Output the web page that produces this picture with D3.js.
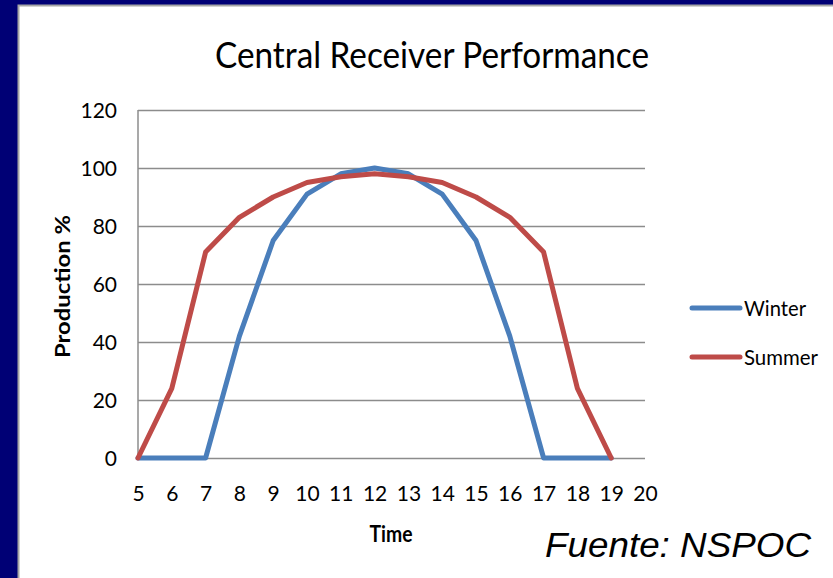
<!DOCTYPE html>
<html>
<head>
<meta charset="utf-8">
<script src="https://cdn.jsdelivr.net/npm/d3@7"></script>
<style>
  html, body { margin: 0; padding: 0; background: #fff; }
  svg { display: block; }
  text { fill: #000; }
</style>
</head>
<body>
<svg id="chart" width="833" height="578" font-family="Lato, 'Open Sans', sans-serif"></svg>
<script>
// ---- data ----
const categories = [5, 6, 7, 8, 9, 10, 11, 12, 13, 14, 15, 16, 17, 18, 19, 20];
const winterHours = [5, 6, 7, 8, 9, 10, 11, 12, 13, 14, 15, 16, 17, 18, 19];
const winterValues = [0, 0, 0, 42, 75, 91, 98, 100, 98, 91, 75, 42, 0, 0, 0];
const summerHours = [5, 6, 7, 8, 9, 10, 11, 12, 13, 14, 15, 16, 17, 18, 19];
const summerValues = [0, 24, 71, 83, 90, 95, 97, 98, 97, 95, 90, 83, 71, 24, 0];
const yTicks = [0, 20, 40, 60, 80, 100, 120];
const seriesNames = ["Winter", "Summer"];
const seriesColors = ["#4A7EBB", "#BE4B48"];
const titleText = "Central Receiver Performance";
const xTitle = "Time";
const yTitle = "Production %";
const sourceText = "Fuente: NSPOC";

const svg = d3.select("#chart");
const W = 833, H = 578;
const mainFont = "Lato, 'Open Sans', sans-serif";

// slide background and chart panel
svg.append("rect").attr("x", 0).attr("y", 0).attr("width", W).attr("height", H).attr("fill", "#000075");
svg.append("rect").attr("x", 18.5).attr("y", 5.5).attr("width", W).attr("height", H + 10)
  .attr("fill", "#fff").attr("stroke", "#A6A6A6").attr("stroke-width", 2);

const plot = { left: 138, right: 645, top: 110, bottom: 458 };

const x = d3.scalePoint().domain(categories).range([plot.left, plot.right]);
const y = d3.scaleLinear().domain([0, 120]).range([plot.bottom, plot.top]);

// gridlines + y labels
const yAxis = d3.axisLeft(y).tickValues(yTicks).tickSize(-(plot.right - plot.left)).tickPadding(21).tickFormat(d3.format("d"));
const gy = svg.append("g").attr("transform", `translate(${plot.left},0)`).call(yAxis);
gy.select(".domain").remove();
gy.selectAll(".tick line").attr("stroke", "#8C8C8C").attr("stroke-width", 1.3);
gy.selectAll(".tick text").attr("font-size", 21).attr("font-family", mainFont).attr("fill", "#000").attr("dy", "0.36em");

// vertical axis line
svg.append("line").attr("x1", plot.left).attr("x2", plot.left).attr("y1", plot.top).attr("y2", plot.bottom)
  .attr("stroke", "#8C8C8C").attr("stroke-width", 1.5);

// x labels
const xAxis = d3.axisBottom(x).tickSize(0).tickPadding(28);
const gx = svg.append("g").attr("transform", `translate(0,${plot.bottom})`).call(xAxis);
gx.select(".domain").remove();
gx.selectAll(".tick text").attr("font-size", 21).attr("font-family", mainFont).attr("fill", "#000");

// lines
const series = [
  { name: seriesNames[0], color: seriesColors[0], pts: winterHours.map((h, i) => [h, winterValues[i]]) },
  { name: seriesNames[1], color: seriesColors[1], pts: summerHours.map((h, i) => [h, summerValues[i]]) }
];
const line = d3.line().x(d => x(d[0])).y(d => y(d[1]));
series.forEach(s => {
  svg.append("path").datum(s.pts).attr("d", line).attr("fill", "none")
    .attr("stroke", s.color).attr("stroke-width", 5).attr("stroke-linejoin", "round").attr("stroke-linecap", "round");
});

// title
svg.append("text").attr("x", 432).attr("y", 67.5).attr("text-anchor", "middle").attr("font-family", mainFont)
  .attr("font-size", 37).attr("textLength", 434).attr("lengthAdjust", "spacingAndGlyphs").text(titleText);

// axis titles
svg.append("text").attr("transform", "translate(70,286.5) rotate(-90)").attr("text-anchor", "middle").attr("font-family", mainFont)
  .attr("font-size", 20).attr("font-weight", "bold").attr("textLength", 143).attr("lengthAdjust", "spacingAndGlyphs").text(yTitle);
svg.append("text").attr("x", 391).attr("y", 541.5).attr("text-anchor", "middle").attr("font-family", mainFont)
  .attr("font-size", 22).attr("font-weight", "bold").attr("textLength", 43).attr("lengthAdjust", "spacingAndGlyphs").text(xTitle);

// legend
const legY = [308, 357];
series.forEach((s, i) => {
  svg.append("line").attr("x1", 692).attr("x2", 740).attr("y1", legY[i]).attr("y2", legY[i])
    .attr("stroke", s.color).attr("stroke-width", 5).attr("stroke-linecap", "round");
  svg.append("text").attr("x", 744).attr("y", legY[i] + 8).attr("font-size", 21).attr("font-family", mainFont)
    .attr("textLength", i === 0 ? 62 : 74).attr("lengthAdjust", "spacingAndGlyphs").text(s.name);
});

// source note
svg.append("text").attr("x", 545).attr("y", 556.5).attr("font-family", "'Liberation Sans', Arial, sans-serif")
  .attr("font-style", "italic").attr("font-size", 35).attr("textLength", 266).attr("lengthAdjust", "spacingAndGlyphs").text(sourceText);
</script>
</body>
</html>
